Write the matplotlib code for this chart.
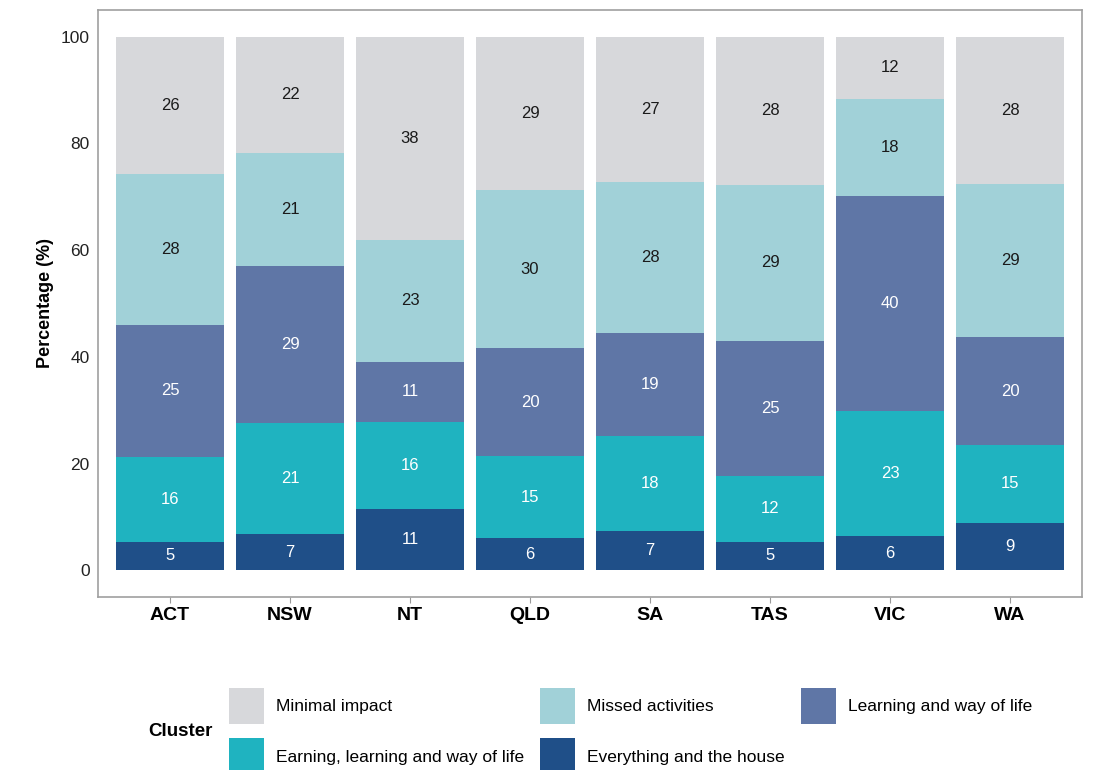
import matplotlib
matplotlib.use("Agg")
import matplotlib.pyplot as plt
import numpy as np

plt.rcParams['font.family'] = ['Liberation Sans', 'DejaVu Sans']

states = ["ACT", "NSW", "NT", "QLD", "SA", "TAS", "VIC", "WA"]

# bottom to top in each bar
everything = [5.4, 6.8, 11.4, 6.0, 7.3, 5.4, 6.4, 8.9]
earning = [15.9, 20.9, 16.4, 15.4, 17.8, 12.2, 23.4, 14.6]
learning = [24.7, 29.3, 11.3, 20.2, 19.4, 25.4, 40.4, 20.2]
missed = [28.3, 21.2, 22.8, 29.6, 28.3, 29.2, 18.2, 28.6]
minimal = [25.7, 21.8, 38.1, 28.8, 27.2, 27.8, 11.6, 27.7]

clusters = ["Everything and the house", "Earning, learning and way of life",
            "Learning and way of life", "Missed activities", "Minimal impact"]
colors = ["#1f4f88", "#1fb3c0", "#5f76a6", "#a1d1d8", "#d7d8db"]
text_colors = ["white", "white", "white", "#1a1a1a", "#1a1a1a"]

series = [everything, earning, learning, missed, minimal]

fig = plt.figure(figsize=(10.97, 7.7), dpi=100)
ax = fig.add_axes([98 / 1097, 1 - 597 / 770, 984 / 1097, 587 / 770])

x = np.arange(len(states))
bottom = np.zeros(len(states))
handles = []
for vals, name, col, tcol in zip(series, clusters, colors, text_colors):
    vals = np.array(vals)
    bars = ax.bar(x, vals, width=0.9, bottom=bottom, color=col, label=name)
    handles.append(bars)
    for xi, b, v in zip(x, bottom, vals):
        ax.text(xi, b + v / 2, f"{v:.0f}", ha="center", va="center",
                color=tcol, fontsize=12)
    bottom = bottom + vals

ax.set_xlim(-0.6, 7.6)
ax.set_ylim(-5, 105)
ax.set_xticks(x)
ax.set_xticklabels(states, fontsize=14, fontweight="bold", color="black")
ax.set_yticks([0, 20, 40, 60, 80, 100])
ax.tick_params(axis="y", length=0, pad=6, labelsize=12.5, labelcolor="#222222")
ax.tick_params(axis="x", length=4, color="#999999", pad=3)
for s in ax.spines.values():
    s.set_color("#a0a0a0")
    s.set_linewidth(1.2)
ax.set_ylabel("Percentage (%)", fontsize=13, fontweight="bold", labelpad=5)

# legend: row-major order like the original
order = [4, 1, 3, 0, 2]
leg = fig.legend([handles[i] for i in order], [clusters[i] for i in order],
                 ncol=3, loc="upper left", bbox_to_anchor=(229 / 1097, 1 - 688 / 770),
                 frameon=False, fontsize=12.5, handlelength=2.0, handleheight=2.85,
                 handletextpad=0.7, columnspacing=0.95, labelspacing=0.8,
                 borderpad=0, borderaxespad=0)
fig.text(148 / 1097, 1 - 731 / 770, "Cluster", fontsize=13.5, fontweight="bold",
         va="center", ha="left")

fig.savefig("out.png", dpi=100)
